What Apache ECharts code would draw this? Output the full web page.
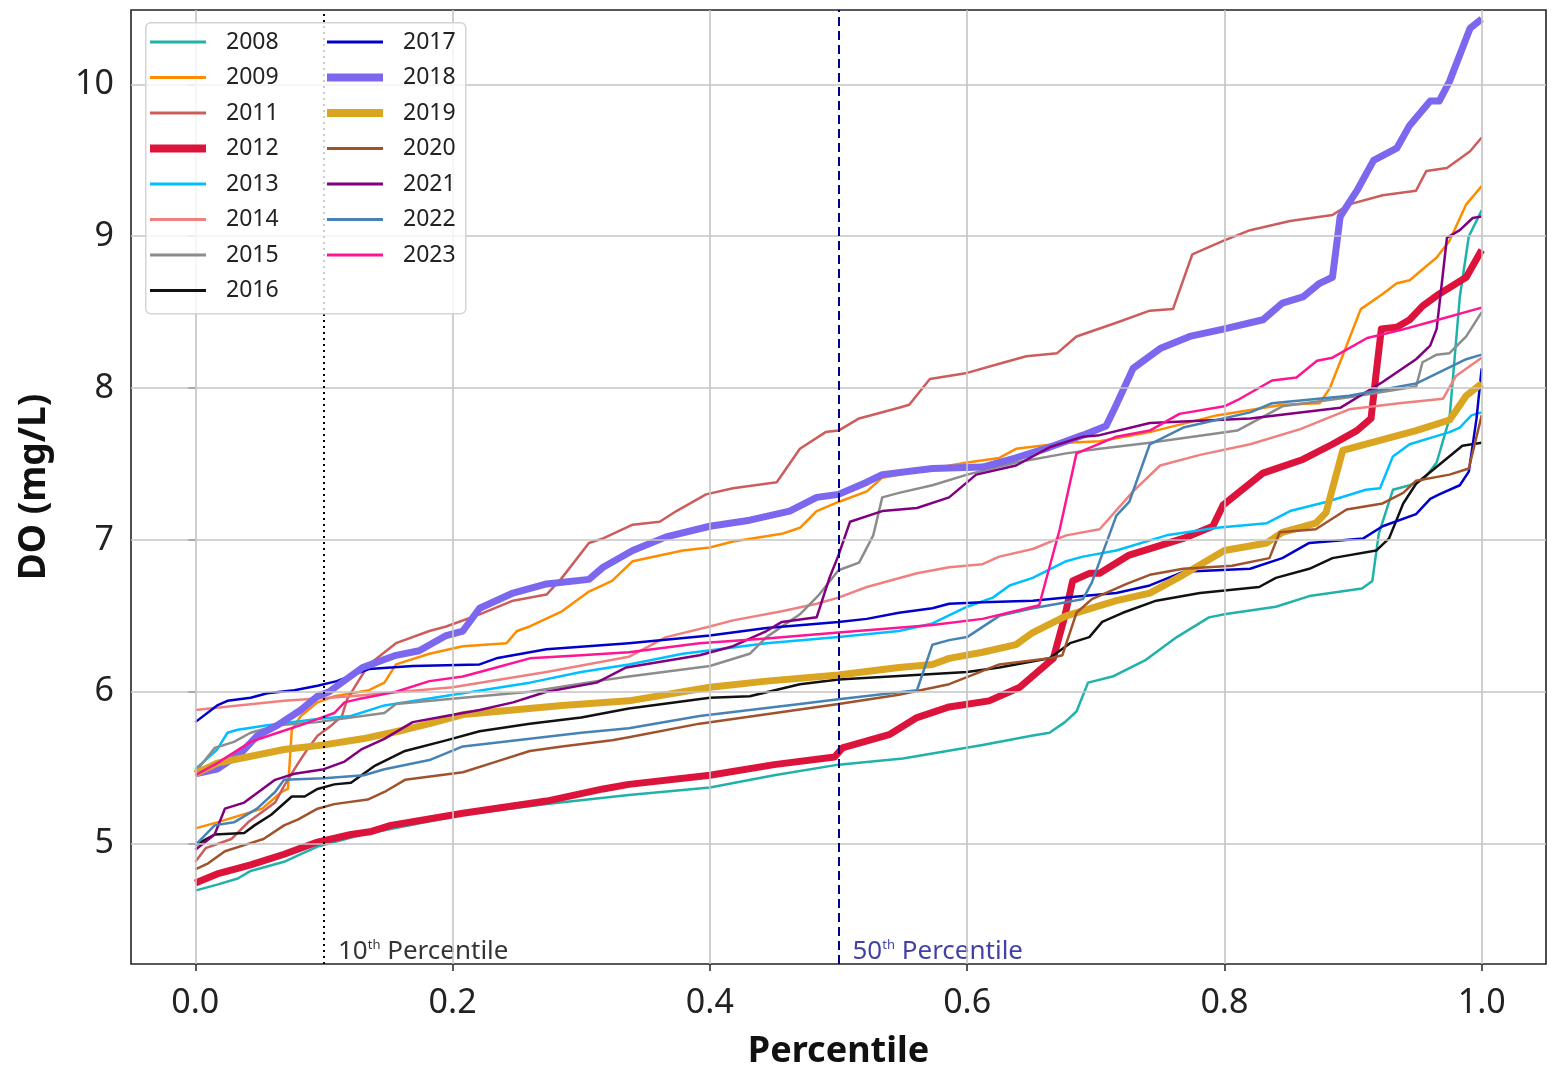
<!DOCTYPE html>
<html><head><meta charset="utf-8">
<script src="https://cdn.jsdelivr.net/npm/echarts@6/dist/echarts.min.js"></script>
<style>html,body{margin:0;padding:0;background:#fff}#c{width:1558px;height:1075px}</style>
</head><body><div id="c"></div>
<script>
// ---------- data ----------
const years = ['2008','2009','2011','2012','2013','2014','2015','2016','2017','2018','2019','2020','2021','2022','2023'];
const xTicks = [0, 0.2, 0.4, 0.6, 0.8, 1.0];
const yTicks = [5, 6, 7, 8, 9, 10];
const pctLines = [0.1, 0.5];
const pctLabels = ['10', '50'];

const s2008 = [[0,4.69],[0.017,4.73],[0.033,4.77],[0.043,4.82],[0.069,4.88],[0.082,4.93],[0.095,4.98],[0.13,5.06],[0.208,5.19],[0.273,5.26],[0.337,5.32],[0.4,5.37],[0.45,5.45],[0.5,5.52],[0.55,5.56],[0.612,5.65],[0.65,5.71],[0.664,5.73],[0.676,5.8],[0.685,5.87],[0.694,6.06],[0.713,6.1],[0.739,6.21],[0.763,6.36],[0.788,6.49],[0.8,6.51],[0.84,6.56],[0.866,6.63],[0.907,6.68],[0.915,6.73],[0.92,7.04],[0.931,7.33],[0.944,7.36],[0.955,7.4],[0.965,7.51],[0.975,7.8],[0.983,8.6],[0.99,9.0],[1.0,9.17]];
const s2009 = [[0,5.1],[0.017,5.14],[0.052,5.23],[0.067,5.34],[0.072,5.36],[0.075,5.75],[0.082,5.84],[0.095,5.93],[0.108,5.97],[0.135,6.01],[0.147,6.06],[0.156,6.18],[0.182,6.25],[0.208,6.3],[0.242,6.32],[0.25,6.4],[0.26,6.43],[0.285,6.53],[0.306,6.66],[0.324,6.73],[0.34,6.86],[0.379,6.93],[0.4,6.95],[0.418,6.99],[0.456,7.04],[0.47,7.08],[0.483,7.19],[0.5,7.25],[0.522,7.32],[0.534,7.41],[0.573,7.47],[0.6,7.51],[0.625,7.54],[0.638,7.6],[0.677,7.64],[0.703,7.65],[0.742,7.71],[0.794,7.82],[0.845,7.89],[0.874,7.9],[0.882,8.0],[0.895,8.28],[0.906,8.52],[0.923,8.62],[0.934,8.69],[0.944,8.71],[0.965,8.86],[0.975,8.97],[0.988,9.21],[1.0,9.33]];
const s2011 = [[0,4.88],[0.008,4.97],[0.028,5.03],[0.041,5.14],[0.062,5.27],[0.069,5.38],[0.08,5.53],[0.087,5.62],[0.095,5.71],[0.106,5.78],[0.114,5.84],[0.118,5.95],[0.126,6.06],[0.135,6.18],[0.156,6.32],[0.182,6.4],[0.195,6.43],[0.221,6.51],[0.247,6.6],[0.273,6.64],[0.285,6.75],[0.306,6.98],[0.317,7.01],[0.34,7.1],[0.361,7.12],[0.374,7.19],[0.397,7.3],[0.418,7.34],[0.452,7.38],[0.47,7.6],[0.49,7.71],[0.5,7.72],[0.516,7.8],[0.547,7.87],[0.555,7.89],[0.571,8.06],[0.6,8.1],[0.625,8.16],[0.646,8.21],[0.67,8.23],[0.685,8.34],[0.716,8.43],[0.742,8.51],[0.76,8.52],[0.775,8.88],[0.799,8.97],[0.82,9.04],[0.851,9.1],[0.884,9.14],[0.897,9.21],[0.923,9.27],[0.949,9.3],[0.957,9.43],[0.973,9.45],[0.991,9.56],[1.0,9.65]];
const s2012 = [[0,4.74],[0.017,4.8],[0.043,4.86],[0.069,4.93],[0.095,5.01],[0.121,5.06],[0.137,5.08],[0.152,5.12],[0.208,5.2],[0.273,5.28],[0.317,5.36],[0.337,5.39],[0.4,5.45],[0.45,5.52],[0.497,5.57],[0.503,5.63],[0.54,5.72],[0.561,5.83],[0.586,5.9],[0.617,5.94],[0.641,6.03],[0.667,6.22],[0.676,6.5],[0.682,6.73],[0.695,6.78],[0.703,6.78],[0.726,6.9],[0.768,7.01],[0.791,7.09],[0.799,7.23],[0.83,7.44],[0.861,7.53],[0.884,7.63],[0.903,7.72],[0.914,7.8],[0.918,8.1],[0.922,8.39],[0.934,8.4],[0.944,8.45],[0.954,8.54],[0.967,8.62],[0.988,8.73],[1.0,8.91]];
const s2013 = [[0,5.49],[0.017,5.62],[0.025,5.73],[0.033,5.75],[0.056,5.78],[0.095,5.82],[0.121,5.84],[0.147,5.91],[0.208,5.99],[0.26,6.06],[0.3,6.13],[0.337,6.18],[0.379,6.25],[0.444,6.32],[0.5,6.36],[0.547,6.4],[0.573,6.45],[0.6,6.56],[0.62,6.62],[0.633,6.7],[0.651,6.75],[0.677,6.86],[0.69,6.89],[0.716,6.93],[0.755,7.03],[0.794,7.08],[0.833,7.11],[0.851,7.19],[0.879,7.25],[0.91,7.33],[0.921,7.34],[0.931,7.55],[0.944,7.63],[0.975,7.71],[0.983,7.74],[0.992,7.82],[1.0,7.84]];
const s2014 = [[0,5.88],[0.069,5.94],[0.121,5.97],[0.2,6.03],[0.273,6.13],[0.337,6.23],[0.366,6.36],[0.4,6.43],[0.418,6.47],[0.456,6.53],[0.483,6.58],[0.5,6.62],[0.522,6.69],[0.561,6.78],[0.586,6.82],[0.612,6.84],[0.625,6.89],[0.651,6.94],[0.677,7.03],[0.703,7.07],[0.729,7.32],[0.75,7.49],[0.781,7.56],[0.82,7.63],[0.859,7.73],[0.897,7.86],[0.936,7.9],[0.97,7.93],[0.98,8.08],[1.0,8.2]];
const s2015 = [[0,5.47],[0.015,5.63],[0.03,5.67],[0.043,5.73],[0.064,5.78],[0.095,5.8],[0.147,5.86],[0.156,5.92],[0.208,5.96],[0.26,6.0],[0.312,6.07],[0.337,6.1],[0.4,6.17],[0.431,6.25],[0.444,6.36],[0.47,6.51],[0.485,6.64],[0.5,6.8],[0.516,6.85],[0.527,7.03],[0.534,7.28],[0.547,7.31],[0.573,7.36],[0.6,7.43],[0.638,7.51],[0.677,7.57],[0.703,7.6],[0.742,7.64],[0.81,7.72],[0.845,7.88],[0.897,7.94],[0.949,8.01],[0.954,8.17],[0.965,8.22],[0.975,8.23],[0.988,8.34],[1.0,8.5]];
const s2016 = [[0,4.99],[0.015,5.06],[0.038,5.07],[0.046,5.12],[0.059,5.19],[0.075,5.31],[0.085,5.31],[0.095,5.36],[0.108,5.39],[0.121,5.4],[0.139,5.51],[0.163,5.61],[0.195,5.68],[0.221,5.74],[0.26,5.79],[0.3,5.83],[0.337,5.89],[0.4,5.96],[0.431,5.97],[0.47,6.05],[0.5,6.08],[0.6,6.13],[0.625,6.16],[0.664,6.22],[0.68,6.32],[0.695,6.36],[0.705,6.46],[0.721,6.52],[0.747,6.6],[0.781,6.65],[0.827,6.69],[0.84,6.75],[0.866,6.81],[0.884,6.88],[0.918,6.93],[0.928,7.01],[0.939,7.24],[0.949,7.37],[0.962,7.46],[0.985,7.62],[1.0,7.64]];
const s2017 = [[0,5.8],[0.017,5.91],[0.025,5.94],[0.043,5.96],[0.056,5.99],[0.077,6.01],[0.095,6.04],[0.11,6.07],[0.135,6.15],[0.169,6.17],[0.221,6.18],[0.234,6.22],[0.273,6.28],[0.337,6.32],[0.4,6.37],[0.444,6.42],[0.5,6.46],[0.522,6.48],[0.547,6.52],[0.573,6.55],[0.586,6.58],[0.612,6.59],[0.651,6.6],[0.677,6.62],[0.716,6.65],[0.742,6.7],[0.768,6.79],[0.82,6.81],[0.845,6.88],[0.866,6.98],[0.908,7.01],[0.923,7.09],[0.949,7.17],[0.96,7.27],[0.967,7.3],[0.983,7.36],[0.99,7.45],[0.996,7.8],[1.0,8.13]];
const s2018 = [[0,5.46],[0.017,5.49],[0.036,5.6],[0.048,5.71],[0.064,5.78],[0.082,5.88],[0.095,5.97],[0.104,6.0],[0.13,6.16],[0.156,6.24],[0.174,6.27],[0.195,6.37],[0.208,6.4],[0.221,6.55],[0.247,6.65],[0.273,6.71],[0.306,6.74],[0.317,6.82],[0.34,6.93],[0.366,7.02],[0.4,7.09],[0.431,7.13],[0.462,7.19],[0.483,7.28],[0.5,7.3],[0.522,7.38],[0.534,7.43],[0.573,7.47],[0.612,7.48],[0.638,7.54],[0.664,7.61],[0.69,7.69],[0.708,7.75],[0.716,7.89],[0.729,8.13],[0.75,8.26],[0.773,8.34],[0.8,8.39],[0.83,8.45],[0.845,8.56],[0.861,8.6],[0.874,8.69],[0.884,8.73],[0.89,9.13],[0.903,9.3],[0.916,9.5],[0.934,9.58],[0.944,9.73],[0.96,9.89],[0.967,9.89],[0.975,10.02],[0.991,10.37],[1.0,10.43]];
const s2019 = [[0,5.46],[0.017,5.53],[0.069,5.62],[0.1,5.65],[0.13,5.69],[0.163,5.75],[0.182,5.79],[0.208,5.85],[0.234,5.87],[0.285,5.91],[0.337,5.94],[0.4,6.03],[0.444,6.07],[0.5,6.11],[0.547,6.16],[0.573,6.18],[0.586,6.22],[0.612,6.26],[0.638,6.31],[0.651,6.39],[0.677,6.5],[0.716,6.6],[0.742,6.65],[0.768,6.77],[0.8,6.93],[0.833,6.98],[0.845,7.05],[0.871,7.11],[0.879,7.18],[0.892,7.59],[0.923,7.66],[0.949,7.72],[0.975,7.79],[0.988,7.95],[1.0,8.03]];
const s2020 = [[0,4.83],[0.01,4.87],[0.023,4.95],[0.038,4.99],[0.053,5.03],[0.069,5.12],[0.08,5.16],[0.095,5.23],[0.108,5.26],[0.134,5.29],[0.147,5.34],[0.163,5.42],[0.208,5.47],[0.234,5.54],[0.26,5.61],[0.285,5.64],[0.324,5.68],[0.337,5.7],[0.392,5.79],[0.5,5.92],[0.547,5.98],[0.586,6.05],[0.625,6.18],[0.664,6.22],[0.674,6.24],[0.685,6.52],[0.697,6.61],[0.724,6.71],[0.742,6.77],[0.768,6.81],[0.806,6.83],[0.835,6.88],[0.843,7.05],[0.871,7.07],[0.895,7.2],[0.923,7.24],[0.939,7.31],[0.949,7.39],[0.975,7.43],[0.99,7.47],[1.0,7.82]];
const s2021 = [[0,4.96],[0.015,5.06],[0.023,5.23],[0.038,5.27],[0.062,5.42],[0.077,5.46],[0.1,5.49],[0.116,5.54],[0.129,5.62],[0.147,5.69],[0.169,5.8],[0.195,5.84],[0.221,5.88],[0.247,5.93],[0.273,6.0],[0.312,6.06],[0.335,6.16],[0.392,6.24],[0.418,6.3],[0.444,6.4],[0.456,6.46],[0.483,6.49],[0.493,6.75],[0.5,6.9],[0.509,7.12],[0.534,7.19],[0.561,7.21],[0.586,7.28],[0.607,7.43],[0.638,7.49],[0.664,7.61],[0.69,7.68],[0.703,7.69],[0.742,7.77],[0.82,7.8],[0.89,7.87],[0.923,8.04],[0.949,8.19],[0.96,8.28],[0.965,8.39],[0.973,8.99],[0.983,9.04],[0.993,9.12],[1.0,9.13]];
const s2022 = [[0,4.99],[0.015,5.12],[0.03,5.14],[0.048,5.23],[0.062,5.34],[0.069,5.42],[0.1,5.43],[0.131,5.45],[0.147,5.49],[0.182,5.55],[0.208,5.64],[0.26,5.69],[0.3,5.73],[0.337,5.76],[0.392,5.84],[0.47,5.92],[0.5,5.95],[0.561,6.01],[0.573,6.31],[0.586,6.34],[0.6,6.36],[0.625,6.5],[0.651,6.55],[0.677,6.59],[0.69,6.61],[0.697,6.72],[0.716,7.16],[0.726,7.25],[0.742,7.63],[0.768,7.74],[0.82,7.84],[0.837,7.9],[0.897,7.95],[0.949,8.03],[0.988,8.19],[1.0,8.22]];
const s2023 = [[0,5.45],[0.017,5.53],[0.043,5.67],[0.064,5.73],[0.082,5.78],[0.095,5.82],[0.108,5.86],[0.116,5.93],[0.126,5.95],[0.156,6.0],[0.182,6.07],[0.208,6.1],[0.234,6.16],[0.26,6.22],[0.3,6.24],[0.337,6.26],[0.392,6.32],[0.444,6.35],[0.5,6.39],[0.573,6.44],[0.612,6.48],[0.656,6.57],[0.672,7.07],[0.685,7.57],[0.716,7.68],[0.742,7.72],[0.765,7.83],[0.8,7.88],[0.81,7.92],[0.837,8.05],[0.856,8.07],[0.872,8.18],[0.884,8.2],[0.911,8.33],[0.936,8.38],[0.962,8.44],[1.0,8.53]];

const seriesData = [s2008,s2009,s2011,s2012,s2013,s2014,s2015,s2016,s2017,s2018,s2019,s2020,s2021,s2022,s2023];

// ---------- styles ----------
const colors = ['#20B2AA','#FF8C00','#CD5C5C','#DC143C','#00BFFF','#F08080','#8C8C8C','#111111','#0000CD','#7B68EE','#DAA520','#A0522D','#800080','#4682B4','#FF1493'];
const widths = [2.5,2.5,2.5,7,2.5,2.5,2.5,2.5,2.5,7,7,2.5,2.5,2.5,2.5];
const FONT = 'Noto Sans';

// legend line icons (thin / thick), bounding box 56 x 14
const ICON_THIN = 'path://M0,0L56,0L56,0.01L0,0.01Z M0,5.6L56,5.6L56,8.4L0,8.4Z M0,13.99L56,13.99L56,14L0,14Z';
const ICON_THICK = 'path://M0,0L56,0L56,0.01L0,0.01Z M0,3L56,3L56,11L0,11Z M0,13.99L56,13.99L56,14L0,14Z';

const chart = echarts.init(document.getElementById('c'), null, {renderer:'canvas'});

const lineSeries = years.map((y,i)=>({
  name: y, type:'line', data: seriesData[i], symbol:'none', showSymbol:false,
  lineStyle:{color:colors[i], width:widths[i], join:'round'}, itemStyle:{color:colors[i]},
  z: 3, animation:false, clip:true
}));

const gridLineStyle = {color:'#c4c4c4', width:1.6, type:'solid'};
const markData = [];
xTicks.forEach(v=>markData.push({xAxis:v, lineStyle:gridLineStyle}));
yTicks.forEach(v=>markData.push({yAxis:v, lineStyle:gridLineStyle}));
markData.push({xAxis:pctLines[0], lineStyle:{color:'#000', width:2, type:[2,4]}});
markData.push({xAxis:pctLines[1], lineStyle:{color:'#00008B', width:2, type:[9,5]}});

const annColors = ['#000','#12128e'];
const annSeries = {
  type:'scatter', name:'ann', z:1, silent:true, animation:false,
  symbolSize:0,
  data: pctLines.map((x,i)=>({value:[x,4.29], label:{
    show:true, position:'right', distance:14,
    formatter:'{a|'+pctLabels[i]+'}{s|th}{a| Percentile}',
    rich:{a:{fontFamily:FONT,fontSize:26,color:annColors[i]}, s:{fontFamily:FONT,fontSize:13,color:annColors[i],verticalAlign:'top',padding:[0,0,10,0]}}
  }})),
  markLine:{silent:true, symbol:['none','none'], label:{show:false}, animation:false, data:markData}
};

const legItems = (arr)=>arr.map(y=>{
  const i = years.indexOf(y);
  return {name:y, icon: widths[i] > 4 ? ICON_THICK : ICON_THIN, itemStyle:{color:colors[i], borderWidth:0}};
});

const legCommon = {
  orient:'vertical', selectedMode:false, itemWidth:56, itemHeight:14, itemGap:11.5, padding:0,
  textStyle:{fontFamily:FONT, fontSize:23, color:'#222', lineHeight:24, padding:[0,0,0,15]},
  z:20
};

const option = {
  backgroundColor:'#fff',
  animation:false,
  grid:{left:131, right:12, top:10, bottom:102, show:true, borderColor:'#222', borderWidth:1.6, containLabel:false},
  xAxis:{
    type:'value', min:-0.05, max:1.05,
    axisLine:{show:false},
    axisTick:{show:true, customValues:xTicks, length:7, lineStyle:{color:'#222', width:1.5}},
    axisLabel:{customValues:xTicks, formatter:v=>v.toFixed(1), fontFamily:FONT, fontSize:34, color:'#222', margin:22},
    splitLine:{show:false},
    name:'Percentile', nameLocation:'middle', nameGap:70,
    nameTextStyle:{fontFamily:FONT, fontSize:36, fontWeight:'bold', color:'#111'}
  },
  yAxis:{
    type:'value', min:4.207, max:10.49,
    axisLine:{show:false},
    axisTick:{show:true, customValues:yTicks, length:7, lineStyle:{color:'#222', width:1.5}},
    axisLabel:{customValues:yTicks, formatter:v=>String(v), fontFamily:FONT, fontSize:34, color:'#222', margin:17},
    splitLine:{show:false},
    name:'DO (mg/L)', nameLocation:'middle', nameGap:78, nameRotate:90,
    nameTextStyle:{fontFamily:FONT, fontSize:37, fontWeight:'bold', color:'#111'}
  },
  legend:[
    Object.assign({}, legCommon, {left:150, top:30, data:legItems(years.slice(0,8))}),
    Object.assign({}, legCommon, {left:327, top:30, data:legItems(years.slice(8))})
  ],
  graphic:[{
    type:'rect', left:145, top:22, z:15, silent:true,
    shape:{width:320, height:291, r:5},
    style:{fill:'rgba(255,255,255,0.8)', stroke:'#d4d4d4', lineWidth:1.5}
  }],
  series:[annSeries].concat(lineSeries)
};
chart.setOption(option);
</script>
</body></html>
